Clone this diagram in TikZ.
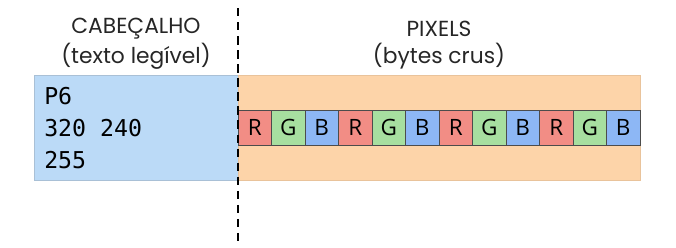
\documentclass[tikz,border=0pt]{standalone}
\usepackage{fontspec}
\setmainfont{Poppins}
\newfontfamily\cellfont{Open Sans}
\setmonofont{DejaVu Sans Mono}
\usepackage{xcolor}
\usetikzlibrary{positioning}

\definecolor{headblue}{HTML}{BBDAF7}
\definecolor{raworange}{HTML}{FDD4A9}
\definecolor{cellR}{HTML}{F28D85}
\definecolor{cellG}{HTML}{A7DFA0}
\definecolor{cellB}{HTML}{8DB7F5}

\begin{document}
\begin{tikzpicture}[
    node distance=0cm,
    region/.style={rectangle, minimum height=2.625cm, inner sep=0pt, outer sep=0pt},
    title/.style={font=\fontsize{15.5}{18}\selectfont, text=black!85, inner sep=0pt},
    hdrline/.style={font=\ttfamily\fontsize{16.5}{18}\selectfont, anchor=west, inner sep=0pt},
    cell/.style={rectangle, draw=black!70, line width=0.6pt, minimum width=0.8375cm, minimum height=0.875cm, inner sep=0pt, outer sep=0pt, font=\cellfont\fontsize{16}{18}\selectfont},
    split/.style={line width=1.6pt, dash pattern=on 6pt off 4pt}
]
    \useasboundingbox (0,0) rectangle (16.9,-6.175);

    % the two parts of the file
    \node[region, fill=headblue, draw=headblue!85!black!90, minimum width=5.1cm, anchor=north west] (header) at (0.85,-1.875) {};
    \node[region, fill=raworange, draw=raworange!92!black, minimum width=10.05cm, right=0cm of header] (pixels) {};

    % header text
    \node[hdrline] (magic) at (1.1,-2.4) {P6};
    \node[hdrline] (size) at (1.1,-3.2) {320 240};
    \node[hdrline] (maxval) at (1.1,-4.0) {255};

    % pixel bytes
    \node[cell, fill=cellR, anchor=west] (c1) at (pixels.west) {R};
    \foreach \i/\ch/\col [remember=\i as \prev (initially 1)] in {2/G/cellG, 3/B/cellB, 4/R/cellR, 5/G/cellG, 6/B/cellB, 7/R/cellR, 8/G/cellG, 9/B/cellB, 10/R/cellR, 11/G/cellG, 12/B/cellB}
        \node[cell, fill=\col, right=0cm of c\prev] (c\i) {\ch};

    % titles
    \node[title] (headtitle) at (header.center |- 0,-0.725) {CABEÇALHO};
    \node[title] (headsub) at (header.center |- 0,-1.4) {(texto legível)};
    \node[title] (pixtitle) at (pixels.center |- 0,-0.725) {PIXELS};
    \node[title] (pixsub) at (pixels.center |- 0,-1.4) {(bytes crus)};

    % border between header and data
    \coordinate (top) at (header.north east |- 0,-0.2);
    \coordinate (bottom) at (header.north east |- 0,-6.125);
    \draw[split] (top) -- (bottom);
\end{tikzpicture}
\end{document}
